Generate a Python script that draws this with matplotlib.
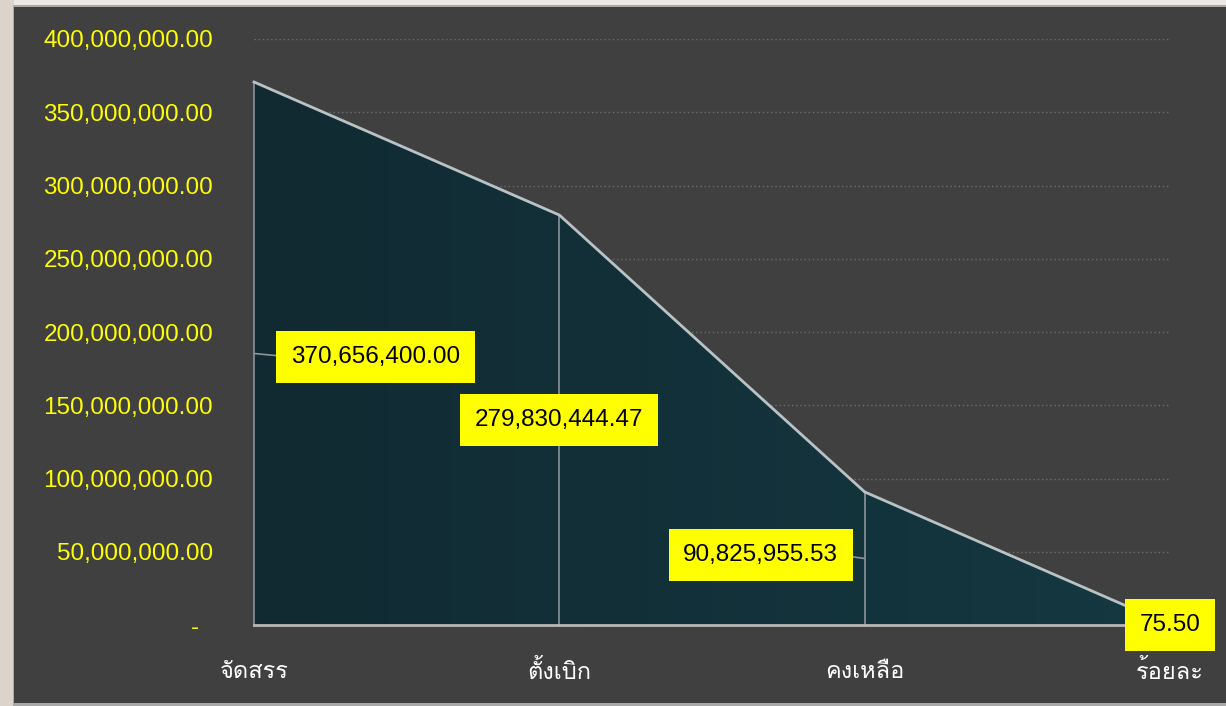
import matplotlib
matplotlib.use("Agg")
import matplotlib.pyplot as plt
import numpy as np
from matplotlib import font_manager
from matplotlib.ft2font import FT2Font
from matplotlib.colors import LinearSegmentedColormap
from matplotlib.patches import Rectangle

# ---- data ----
categories = ["จัดสรร", "ตั้งเบิก", "คงเหลือ", "ร้อยละ"]
values = [370656400.00, 279830444.47, 90825955.53, 75.50]
value_labels = ["370,656,400.00", "279,830,444.47", "90,825,955.53", "75.50"]
y_ticks = [0, 50e6, 100e6, 150e6, 200e6, 250e6, 300e6, 350e6, 400e6]
y_tick_labels = ["-  ", "50,000,000.00", "100,000,000.00", "150,000,000.00",
                 "200,000,000.00", "250,000,000.00", "300,000,000.00",
                 "350,000,000.00", "400,000,000.00"]

# ---- find a font with Thai glyphs ----
thai_family = None
for f in font_manager.fontManager.ttflist:
    try:
        ft = FT2Font(f.fname)
        cm = ft.get_charmap()
        if 0x0E01 in cm and 0x0E31 in cm:
            thai_family = f.name
            break
    except Exception:
        pass
families = ["DejaVu Sans"]
if thai_family:
    families = [thai_family, "DejaVu Sans"]
plt.rcParams["font.family"] = families
num_family = ["Liberation Sans", "DejaVu Sans"]

W, H = 1226, 706
fig = plt.figure(figsize=(W / 100, H / 100), dpi=100, facecolor="#ece8e4")
fig.patches.append(Rectangle((0, 0), 14 / W, 1, transform=fig.transFigure,
                             facecolor="#dcd3cb", edgecolor="none", zorder=-10))
fig.patches.append(Rectangle((13 / W, 0), 1 - 13 / W, (H - 5) / H, transform=fig.transFigure,
                             facecolor="#a8a8a8", edgecolor="none", zorder=-9))
fig.patches.append(Rectangle((14 / W, 3 / H), 1 - 14 / W, (H - 10) / H, transform=fig.transFigure,
                             facecolor="#404040", edgecolor="none", zorder=-8))

ax_left, ax_right = 254 / W, 1170 / W
ax_bottom, ax_top = (H - 625) / H, (H - 39) / H
ax = fig.add_axes([ax_left, ax_bottom, ax_right - ax_left, ax_top - ax_bottom])
ax.set_facecolor("none")

x = np.arange(len(categories))
ax.set_xlim(0, len(categories) - 1)
ax.set_ylim(0, 400e6)

for yt in y_ticks[1:]:
    ax.axhline(yt, color="#6e6e6e", lw=1, ls=(0, (1, 2)), zorder=1)

poly = ax.fill_between(x, values, 0, color="none", zorder=2)
cmap = LinearSegmentedColormap.from_list("g", ["#112a32", "#153841"])
grad = np.linspace(0, 1, 256).reshape(1, -1)
im = ax.imshow(grad, cmap=cmap, aspect="auto", extent=[0, len(categories) - 1, 0, 400e6],
               zorder=2, interpolation="bilinear")
im.set_clip_path(poly.get_paths()[0], transform=ax.transData)

for xi, v in zip(x, values):
    ax.plot([xi, xi], [0, v], color="#8a9499", lw=1.2, zorder=3, clip_on=False)
ax.plot(x, values, color="#b9c3c6", lw=2, zorder=4, clip_on=False, solid_joinstyle="round")
ax.plot([0, len(categories) - 1], [0, 0], color="#b8b8b8", lw=2, zorder=4, clip_on=False)

box = dict(boxstyle="square,pad=0.6", facecolor="#ffff00", edgecolor="none")
lab_fs = 17.5
lead = dict(arrowstyle="-", color="#8a9499", lw=1.2, shrinkA=0, shrinkB=0)
ax.annotate(value_labels[0], xy=(0, values[0] / 2), xytext=(26.5, -2.5), textcoords="offset points",
            ha="left", va="center", fontsize=lab_fs, family=num_family, color="black",
            bbox=box, zorder=6, arrowprops=dict(lead, relpos=(0, 0.5)))
ax.annotate(value_labels[1], xy=(1, values[1] / 2), xytext=(0, 0), textcoords="offset points",
            ha="center", va="center", fontsize=lab_fs, family=num_family, color="black",
            bbox=box, zorder=6)
ax.annotate(value_labels[2], xy=(2, values[2] / 2), xytext=(-19, 2.5), textcoords="offset points",
            ha="right", va="center", fontsize=lab_fs, family=num_family, color="black",
            bbox=box, zorder=6, arrowprops=dict(lead, relpos=(1, 0.5)))
ax.annotate(value_labels[3], xy=(3, values[3]), xytext=(0, 0), textcoords="offset points",
            ha="center", va="center", fontsize=lab_fs, family=num_family, color="black",
            bbox=box, zorder=6, annotation_clip=False)

ax.set_yticks(y_ticks)
ax.set_yticklabels(y_tick_labels, color="#ffff00", fontsize=17.5, family=num_family)
ax.set_xticks(x)
ax.set_xticklabels(categories, color="white", fontsize=17)
ax.tick_params(axis="y", length=0, pad=29.5)
ax.tick_params(axis="x", length=0, pad=25)
for s in ax.spines.values():
    s.set_visible(False)

fig.savefig("out.png", dpi=100, facecolor=fig.get_facecolor())
